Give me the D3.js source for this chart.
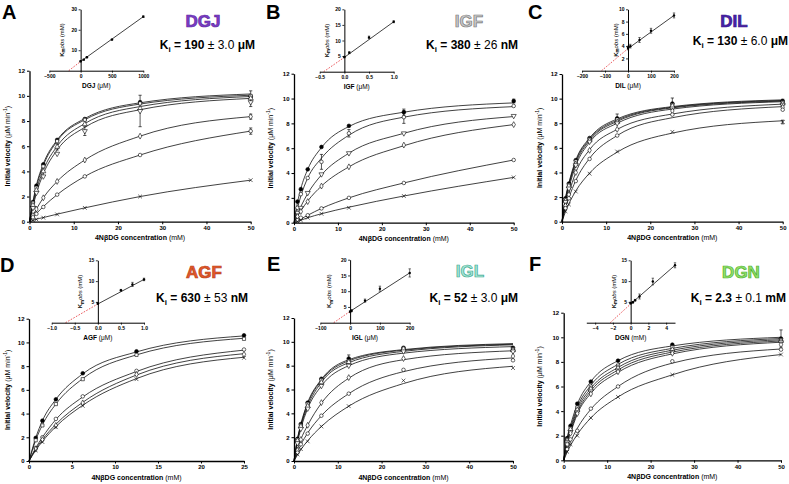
<!DOCTYPE html>
<html><head><meta charset="utf-8">
<script src="https://cdn.jsdelivr.net/npm/d3@7"></script>
<style>
body{margin:0;background:#fff}
svg{display:block;font-family:"Liberation Sans",Arial,Helvetica,sans-serif}
svg text{fill:#000}
</style></head>
<body><svg id="c" width="789" height="484"></svg>
<script>
// ---------------- DATA ----------------
const panelLetters = ["A","B","C","D","E","F"];
const inhibitors   = ["DGJ","IGF","DIL","AGF","IGL","DGN"];
const kiValues     = ["190","380","130","630","52","2.3"];
const kiErrors     = ["3.0","26","6.0","53","3.0","0.1"];
const kiUnits      = ["μM","nM","μM","nM","μM","mM"];
const insetUnits   = ["μM","μM","μM","μM","μM","mM"];

const conc50 = [0.78, 1.56, 3.125, 6.25, 12.5, 25, 50];
const conc25 = [0.78, 1.56, 3.125, 6.25, 12.5, 25];

// measured initial velocities (points)
const velA = [
  [1.56, 2.86, 4.56, 6.50, 8.16, 9.50, 9.95],
  [1.50, 2.70, 4.40, 6.40, 8.10, 9.40, 10.0],
  [1.30, 2.50, 4.00, 5.95, 7.75, 9.00, 9.80],
  [1.10, 2.30, 3.60, 5.40, 7.20, 8.80, 9.50],
  [0.50, 1.00, 1.90, 3.20, 4.90, 6.80, 8.35],
  [0.35, 0.62, 1.17, 2.15, 3.60, 5.30, 7.20],
  [0.10, 0.18, 0.32, 0.58, 1.10, 2.00, 3.30]
];
const velB = [
  [1.70, 2.70, 4.30, 6.10, 7.80, 8.90, 9.80],
  [1.20, 2.30, 3.60, 4.90, 7.20, 8.50, 9.40],
  [0.80, 1.20, 2.40, 3.90, 5.60, 7.20, 8.60],
  [0.50, 0.90, 1.70, 2.95, 4.50, 6.25, 7.90],
  [0.20, 0.40, 0.60, 1.15, 2.00, 3.20, 5.05],
  [0.10, 0.20, 0.40, 0.72, 1.20, 2.15, 3.65]
];
const velC = [
  [1.90, 3.10, 5.00, 6.80, 8.40, 9.60, 9.80],
  [1.80, 3.00, 4.90, 6.70, 8.30, 9.50, 9.70],
  [1.70, 2.90, 4.70, 6.60, 8.10, 9.40, 9.60],
  [1.60, 2.70, 4.60, 6.50, 8.00, 9.20, 9.50],
  [1.30, 2.20, 4.00, 5.80, 7.50, 9.00, 9.30],
  [1.10, 1.90, 3.30, 5.10, 7.00, 8.70, 9.10],
  [0.85, 1.40, 2.45, 3.90, 5.70, 7.30, 8.10]
];
const velD = [
  [1.95, 3.40, 5.20, 7.40, 9.25, 10.6],
  [1.75, 3.00, 4.80, 6.90, 8.95, 10.3],
  [1.10, 2.00, 3.55, 5.45, 7.60, 9.40],
  [1.00, 1.80, 3.00, 4.90, 7.30, 9.00],
  [0.90, 1.60, 2.85, 4.65, 6.90, 8.70]
];
const velE = [
  [1.85, 3.10, 4.90, 6.90, 8.60, 9.50, 9.50],
  [1.80, 3.00, 4.80, 6.80, 8.40, 9.45, 9.40],
  [1.70, 2.90, 4.60, 6.60, 8.30, 9.40, 9.30],
  [1.50, 2.70, 4.40, 6.30, 8.00, 9.20, 9.20],
  [0.90, 1.80, 3.00, 4.90, 7.00, 8.60, 8.80],
  [0.70, 1.40, 2.30, 3.80, 5.65, 7.65, 8.45],
  [0.55, 1.00, 1.65, 2.90, 4.60, 6.75, 7.80]
];
const velF = [
  [1.80, 2.80, 4.60, 6.40, 8.10, 9.40, 9.90],
  [1.70, 2.60, 4.30, 6.00, 7.70, 9.20, 9.80],
  [1.60, 2.50, 4.10, 5.80, 7.50, 9.00, 9.70],
  [1.50, 2.30, 3.90, 5.60, 7.30, 8.80, 9.60],
  [1.30, 2.20, 3.80, 5.40, 7.20, 8.70, 9.40],
  [0.90, 1.70, 2.40, 4.20, 6.00, 8.05, 9.00],
  [0.70, 1.30, 2.00, 3.45, 5.15, 6.95, 8.60]
];

// fitted curves at the same concentrations
const fitA = [
  [1.60, 2.90, 4.60, 6.50, 8.20, 9.45, 10.15],
  [1.50, 2.75, 4.45, 6.40, 8.10, 9.35, 10.05],
  [1.35, 2.50, 4.10, 6.00, 7.80, 9.15, 9.95],
  [1.20, 2.25, 3.80, 5.70, 7.50, 8.90, 9.80],
  [0.50, 1.00, 1.90, 3.20, 4.90, 6.80, 8.35],
  [0.35, 0.65, 1.20, 2.15, 3.60, 5.30, 7.20],
  [0.10, 0.20, 0.33, 0.60, 1.10, 2.00, 3.30]
];
const fitB = [
  [1.60, 2.75, 4.30, 6.05, 7.75, 8.90, 9.65],
  [1.15, 2.15, 3.60, 5.20, 7.05, 8.50, 9.35],
  [0.70, 1.30, 2.35, 3.85, 5.60, 7.20, 8.55],
  [0.50, 0.95, 1.75, 2.95, 4.50, 6.20, 7.90],
  [0.15, 0.30, 0.60, 1.15, 2.00, 3.20, 5.05],
  [0.10, 0.20, 0.40, 0.72, 1.25, 2.15, 3.65]
];
const fitC = [
  [1.90, 3.15, 5.00, 6.80, 8.35, 9.35, 9.90],
  [1.85, 3.05, 4.90, 6.70, 8.25, 9.30, 9.85],
  [1.75, 2.95, 4.75, 6.60, 8.15, 9.25, 9.80],
  [1.60, 2.75, 4.55, 6.45, 8.00, 9.15, 9.75],
  [1.30, 2.30, 4.00, 5.85, 7.50, 8.75, 9.55],
  [1.10, 1.95, 3.35, 5.15, 7.00, 8.45, 9.35],
  [0.80, 1.45, 2.50, 3.95, 5.65, 7.20, 8.20]
];
const fitD = [
  [1.95, 3.40, 5.20, 7.35, 9.20, 10.55],
  [1.75, 3.05, 4.80, 6.95, 8.95, 10.35],
  [1.10, 2.00, 3.50, 5.40, 7.55, 9.35],
  [1.00, 1.80, 3.10, 4.95, 7.25, 9.05],
  [0.90, 1.65, 2.90, 4.70, 6.95, 8.75]
];
const fitE = [
  [1.85, 3.10, 4.90, 6.85, 8.50, 9.35, 9.85],
  [1.80, 3.00, 4.80, 6.75, 8.40, 9.30, 9.80],
  [1.70, 2.90, 4.60, 6.60, 8.25, 9.20, 9.75],
  [1.50, 2.70, 4.40, 6.30, 8.00, 9.05, 9.60],
  [0.95, 1.80, 3.00, 4.85, 6.95, 8.50, 9.25],
  [0.70, 1.35, 2.35, 3.80, 5.65, 7.50, 8.65],
  [0.50, 0.95, 1.70, 2.90, 4.60, 6.50, 7.95]
];
const fitF = [
  [1.80, 2.85, 4.55, 6.40, 8.10, 9.30, 10.0],
  [1.70, 2.65, 4.30, 6.10, 7.80, 9.10, 9.90],
  [1.60, 2.50, 4.10, 5.85, 7.55, 8.95, 9.80],
  [1.50, 2.35, 3.90, 5.65, 7.35, 8.80, 9.70],
  [1.35, 2.20, 3.75, 5.45, 7.15, 8.65, 9.60],
  [0.80, 1.50, 2.60, 4.15, 6.00, 7.90, 9.05],
  [0.65, 1.20, 2.10, 3.45, 5.15, 6.95, 8.60]
];

const symA = ["fc","sq","tu","td","di","oc","x"];
const symB = ["fc","oc","td","di","oc","x"];
const symC = ["fc","sq","tu","td","di","oc","x"];
const symD = ["fc","sq","oc","di","x"];
const symE = ["fc","sq","tu","td","di","oc","x"];
const symF = ["fc","sq","tu","td","di","oc","x"];

// [panel, series, point index, ± error]
const errorBars = [
  [0,3,5,1.25],[0,0,6,0.45],[0,3,6,0.35],[0,3,4,0.35],[0,2,3,0.25],[0,5,6,0.25],[0,4,6,0.2],
  [1,0,5,0.25],[1,1,5,0.5],[1,1,3,0.6],[1,1,4,0.3],[1,0,6,0.15],
  [2,0,5,0.45],[2,0,4,0.35],[2,0,6,0.15],[2,6,6,0.15],
  [4,0,4,0.3],
  [5,0,6,0.7]
];

const mainXMax     = [50, 50, 50, 25, 50, 50];
const mainXTicks50 = [0,10,20,30,40,50];
const mainXTicks25 = [0,5,10,15,20,25];
const mainYTicks   = [0,2,4,6,8,10,12];

// insets: inhibitor concentration vs Km,obs
const insetXA = [0, 50, 100, 500, 1000],   insetYA = [4.6, 5.4, 6.6, 15.2, 26.4],  insetEA = [0.3,0.2,0.3,0.3,0.4];
const insetXB = [0, 0.1, 0.5, 1.0],        insetYB = [4.7, 6.1, 11.0, 16.0],       insetEB = [0.2,0.3,0.4,0.3];
const insetXC = [0, 10, 50, 100, 200],     insetYC = [3.7, 4.0, 5.0, 6.5, 9.0],    insetEC = [0.3,0.3,0.4,0.4,0.4];
const insetXD = [0, 0.5, 0.75, 1.0],       insetYD = [4.6, 7.8, 9.2, 10.4],        insetED = [0.2,0.2,0.5,0.3];
const insetXE = [0, 5, 50, 100, 200],      insetYE = [3.5, 3.8, 7.0, 10.8, 15.8],  insetEE = [0.3,0.3,0.5,0.8,1.3];
const insetXF = [0, 0.25, 0.5, 1.0, 2.5, 5.0], insetYF = [4.7, 4.9, 5.4, 6.3, 9.9, 13.8], insetEF = [0.2,0.2,0.2,0.6,0.8,0.6];
// [x-intercept, y-intercept, x end, y end]
const insetFits = [[-190,4.5,1000,26.4],[-0.42,4.6,1.0,16.0],[-115,3.6,200,9.0],[-0.7,4.5,1.0,10.4],[-55,3.6,200,15.8],[-2.3,4.5,5.0,13.8]];
const insetXDomains = [[-500,1000],[-0.5,1.0],[-200,200],[-1,1],[-100,200],[-5,5]];
const insetYMax = [30, 20, 10, 15, 20, 15];
const insetXTicks = [[-500,0,500,1000],[-0.5,0,0.5,1.0],[-200,-100,0,100,200],[-1,-0.5,0,0.5,1],[-100,0,100,200],[-4,-2,0,2,4]];
const insetYTicks = [[10,20,30],[5,10,15,20],[2,4,6,8,10],[5,10,15],[5,10,15,20],[5,10,15]];
const insetXFormats = ["d",".1f","d",".1f","d","d"];

// ---------------- LAYOUT / STYLE ----------------
const layout = [
 {mx:[29.5,250.7], my:[221.7,70.7], ix:[49.3,143.3], iy:[70.7,9.3],   letter:[2,19],   title:[203,27],  ki:[255,49],  ylx:7.3,   iylx:61.7},
 {mx:[294,513.7],  my:[222.7,73.7], ix:[319.7,393.7], iy:[71.7,9.3],  letter:[266,19], title:[469,27],  ki:[518,49],  ylx:270.3, iylx:326.3},
 {mx:[562,782.7],  my:[221.7,74],   ix:[582,674],    iy:[70.7,9.3],   letter:[528,19], title:[734,27],  ki:[788,45],  ylx:539.3, iylx:615.3},
 {mx:[29,244],     my:[461,318.7],  ix:[51.7,144],   iy:[322.7,260.3],letter:[0,272],  title:[204,278], ki:[248,302], ylx:7.3,   iylx:80},
 {mx:[294,513],    my:[461,318],    ix:[320.3,409.7],iy:[322.7,259.7],letter:[267,271],title:[470,277], ki:[518,302], ylx:270.3, iylx:329},
 {mx:[563.7,781],  my:[460.3,312.7],ix:[586.3,675],  iy:[322.7,260.3],letter:[529,271],title:[741,278], ki:[786,302], ylx:539.3, iylx:613.3}
];
const titleFill   = ["#7d3cc8","#c9c9c9","#4a22a8","#e4592a","#a8e6d6","#96e068"];
const titleStroke = ["#5b2a9e","#7a7a7a","#35168a","#b8401a","#3aaa90","#48b030"];

// build panel table
const panels = panelLetters.map((L,i)=>({
  letter:L, name:inhibitors[i], ki:kiValues[i], kiErr:kiErrors[i], kiUnit:kiUnits[i], iUnit:insetUnits[i],
  conc: i===3 ? conc25 : conc50,
  vel: [velA,velB,velC,velD,velE,velF][i],
  fit: [fitA,fitB,fitC,fitD,fitE,fitF][i],
  sym: [symA,symB,symC,symD,symE,symF][i],
  xMax: mainXMax[i], xTicks: i===3 ? mainXTicks25 : mainXTicks50,
  ix: [insetXA,insetXB,insetXC,insetXD,insetXE,insetXF][i],
  iy: [insetYA,insetYB,insetYC,insetYD,insetYE,insetYF][i],
  ie: [insetEA,insetEB,insetEC,insetED,insetEE,insetEF][i],
  iFit: insetFits[i], iDomX: insetXDomains[i], iYMax: insetYMax[i],
  iXTicks: insetXTicks[i], iYTicks: insetYTicks[i], iFmt: insetXFormats[i]
}));

// ---------------- DRAW ----------------
const svg = d3.select("#c");
const symX = d3.symbolX || {draw(ctx,size){const r=Math.sqrt(size)/2;ctx.moveTo(-r,-r);ctx.lineTo(r,r);ctx.moveTo(-r,r);ctx.lineTo(r,-r);}};
function symbolSpec(k){
  switch(k){
    case "fc": return {d:d3.symbol(d3.symbolCircle,11)(), fill:"#000", rot:0};
    case "oc": return {d:d3.symbol(d3.symbolCircle,10)(), fill:"#fff", rot:0};
    case "sq": return {d:d3.symbol(d3.symbolSquare,10)(), fill:"#fff", rot:0};
    case "tu": return {d:d3.symbol(d3.symbolTriangle,11)(), fill:"#fff", rot:0};
    case "td": return {d:d3.symbol(d3.symbolTriangle,11)(), fill:"#fff", rot:180};
    case "di": return {d:d3.symbol(d3.symbolDiamond,10)(), fill:"#fff", rot:0};
    default:   return {d:d3.symbol(symX,11)(), fill:"none", rot:0};
  }
}
function styleAxis(sel, fs, sw){
  sel.select(".domain").attr("stroke","#000").attr("stroke-width",sw);
  sel.selectAll(".tick line").attr("stroke","#000").attr("stroke-width",sw*0.8);
  sel.selectAll(".tick text").attr("fill","#000").style("font-size",fs+"px").style("font-weight","bold")
     .style("font-family",'"Liberation Sans",Arial,sans-serif');
}

panels.forEach((p,i)=>{
  const L = layout[i];
  const g = svg.append("g");
  const x = d3.scaleLinear().domain([0,p.xMax]).range(L.mx);
  const y = d3.scaleLinear().domain([0,12]).range(L.my);

  // fitted curves
  const line = d3.line().x(d=>x(d[0])).y(d=>y(d[1])).curve(d3.curveMonotoneX);
  p.fit.forEach(s=>{
    const pts = [[0,0]].concat(p.conc.map((c,j)=>[c,s[j]]));
    g.append("path").attr("d",line(pts)).attr("fill","none").attr("stroke","#111").attr("stroke-width",0.8);
  });
  // error bars
  errorBars.filter(e=>e[0]===i).forEach(e=>{
    const cx = x(p.conc[e[2]]), v = p.vel[e[1]][e[2]];
    const y1 = y(v-e[3]), y2 = y(v+e[3]);
    g.append("path").attr("d",`M${cx},${y1}V${y2}M${cx-1.6},${y1}H${cx+1.6}M${cx-1.6},${y2}H${cx+1.6}`)
     .attr("stroke","#111").attr("stroke-width",0.7).attr("fill","none");
  });
  // markers
  p.vel.forEach((s,k)=>{
    const sp = symbolSpec(p.sym[k]);
    s.forEach((v,j)=>{
      g.append("path").attr("d",sp.d)
       .attr("transform",`translate(${x(p.conc[j])},${y(v)}) rotate(${sp.rot})`)
       .attr("fill",sp.fill).attr("stroke","#000").attr("stroke-width",0.6);
    });
  });

  // axes
  const gx = g.append("g").attr("transform",`translate(0,${L.my[0]})`)
    .call(d3.axisBottom(x).tickValues(p.xTicks).tickFormat(d3.format("d")).tickSize(2.5).tickSizeOuter(0).tickPadding(1.5));
  styleAxis(gx,6,1.3);
  const gy = g.append("g").attr("transform",`translate(${L.mx[0]},0)`)
    .call(d3.axisLeft(y).tickValues(mainYTicks).tickFormat(d3.format("d")).tickSize(2.5).tickSizeOuter(0).tickPadding(2));
  styleAxis(gy,6,1.3);

  // axis labels
  const xl = g.append("text").attr("x",(L.mx[0]+L.mx[1])/2).attr("y",L.my[0]+18.5).attr("text-anchor","middle")
    .attr("fill","#000").style("font-size","7px").style("font-weight","bold");
  xl.append("tspan").attr("fill","#000").text("4NβDG concentration ");
  xl.append("tspan").attr("fill","#000").style("font-weight","normal").text("(mM)");
  const yc = (L.my[0]+L.my[1])/2;
  const yl = g.append("text").attr("transform",`translate(${L.ylx+2.5},${yc}) rotate(-90)`).attr("text-anchor","middle")
    .attr("fill","#000").style("font-size","7px").style("font-weight","bold");
  yl.append("tspan").attr("fill","#000").text("Initial velocity ");
  yl.append("tspan").attr("fill","#000").style("font-weight","normal").text("(μM min");
  yl.append("tspan").attr("fill","#000").style("font-weight","normal").style("font-size","5px").attr("dy",-2.5).text("-1");
  yl.append("tspan").attr("fill","#000").style("font-weight","normal").attr("dy",2.5).text(")");

  // panel letter
  g.append("text").attr("x",L.letter[0]).attr("y",L.letter[1]).attr("fill","#000")
    .style("font-size","20px").style("font-weight","bold").text(p.letter);
  // inhibitor name
  g.append("text").attr("x",L.title[0]).attr("y",L.title[1]).attr("text-anchor","middle")
    .style("font-size","17px").style("font-weight","bold")
    .style("fill",titleFill[i]).attr("stroke",titleStroke[i]).attr("stroke-width",0.7).text(p.name);
  // Ki text
  const kt = g.append("text").attr("x",L.ki[0]).attr("y",L.ki[1]).attr("text-anchor","end")
    .style("font-size","12px").style("font-weight","bold");
  kt.append("tspan").text("K");
  kt.append("tspan").attr("dy",2.5).style("font-size","8px").text("i");
  kt.append("tspan").attr("dy",-2.5).text(" = "+p.ki+" ");
  kt.append("tspan").style("font-weight","normal").text("± "+p.kiErr);
  kt.append("tspan").text(" "+p.kiUnit);

  // ---- inset ----
  const ix = d3.scaleLinear().domain(p.iDomX).range(L.ix);
  const iy = d3.scaleLinear().domain([0,p.iYMax]).range(L.iy);
  const f = p.iFit;
  g.append("line").attr("x1",ix(f[0])).attr("y1",iy(0)).attr("x2",ix(0)).attr("y2",iy(f[1]))
    .attr("stroke","#e8474c").attr("stroke-width",0.9).attr("stroke-dasharray","1.6,1.4");
  g.append("line").attr("x1",ix(0)).attr("y1",iy(f[1])).attr("x2",ix(f[2])).attr("y2",iy(f[3]))
    .attr("stroke","#111").attr("stroke-width",0.8);
  p.ix.forEach((xv,j)=>{
    const cx = ix(xv), cy = iy(p.iy[j]), e = p.ie[j];
    g.append("path").attr("d",`M${cx},${iy(p.iy[j]-e)}V${iy(p.iy[j]+e)}M${cx-1.2},${iy(p.iy[j]-e)}H${cx+1.2}M${cx-1.2},${iy(p.iy[j]+e)}H${cx+1.2}`)
      .attr("stroke","#111").attr("stroke-width",0.6);
    g.append("circle").attr("cx",cx).attr("cy",cy).attr("r",1.2).attr("fill","#000");
  });
  const igx = g.append("g").attr("transform",`translate(0,${iy(0)})`)
    .call(d3.axisBottom(ix).tickValues(p.iXTicks).tickFormat(d3.format(p.iFmt)).tickSize(2).tickSizeOuter(0).tickPadding(1.5));
  styleAxis(igx,5,1);
  const igy = g.append("g").attr("transform",`translate(${ix(0)},0)`)
    .call(d3.axisLeft(iy).tickValues(p.iYTicks).tickFormat(d3.format("d")).tickSize(2).tickSizeOuter(0).tickPadding(1.5));
  styleAxis(igy,5,1);
  // inset labels
  const ixl = g.append("text").attr("x",(L.ix[0]+L.ix[1])/2).attr("y",L.iy[0]+17).attr("text-anchor","middle")
    .style("font-size","6.5px").style("font-weight","bold");
  ixl.append("tspan").text(p.name+" ");
  ixl.append("tspan").style("font-weight","normal").text("("+p.iUnit+")");
  const iyl = g.append("text").attr("transform",`translate(${L.iylx+2.2},${(L.iy[0]+L.iy[1])/2}) rotate(-90)`)
    .attr("text-anchor","middle").style("font-size","6px").style("font-weight","bold");
  iyl.append("tspan").text("K");
  iyl.append("tspan").attr("dy",1.5).style("font-size","4.5px").text("m");
  iyl.append("tspan").attr("dy",-1.5).style("font-weight","normal").style("font-style","italic").text("obs");
  iyl.append("tspan").style("font-weight","normal").text(" (mM)");
});
</script>
</body></html>
